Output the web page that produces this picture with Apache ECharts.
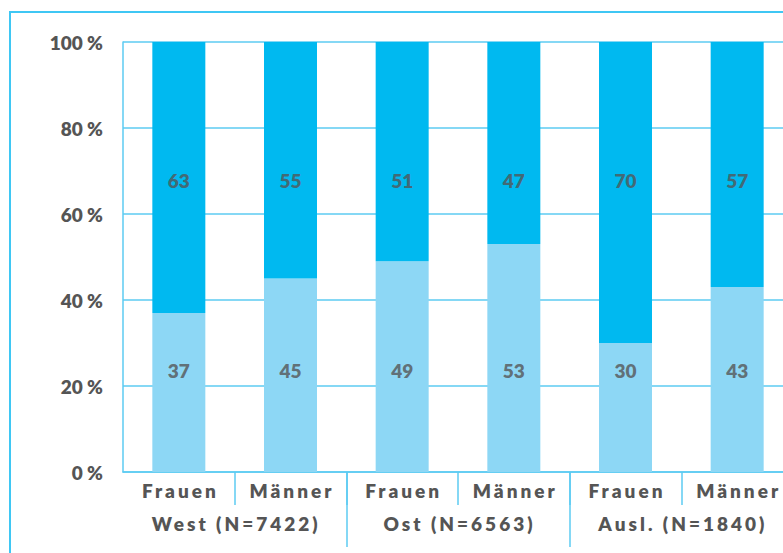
<!DOCTYPE html>
<html><head><meta charset="utf-8">
<script src="https://cdn.jsdelivr.net/npm/echarts@6/dist/echarts.min.js"></script>
<style>html,body{margin:0;padding:0;background:#fff}#c{width:783px;height:553px}</style>
</head><body><div id="c"></div>
<script>
// Data
const categories = ['Frauen', 'Männer', 'Frauen', 'Männer', 'Frauen', 'Männer'];
const groups = ['West (N=7422)', 'Ost (N=6563)', 'Ausl. (N=1840)'];
const lightValues = [37, 45, 49, 53, 30, 43];
const darkValues = [63, 55, 51, 47, 70, 57];
const yMin = 0, yMax = 100, yStep = 20;

// Style constants
const LABEL_Y_LIGHT = 23.7;
const LABEL_Y_DARK = 67.7;
const DARK = '#00b9f0', LIGHT = '#8dd7f5', LINE = '#5ccbf2', TEXT = '#555555';
const FONT = 'Lato';
const WEIGHT = 800;

const chart = echarts.init(document.getElementById('c'), null, {renderer: 'svg'});
const labelStyle = {show: true, position: 'inside', color: TEXT, fontFamily: FONT, fontWeight: WEIGHT, fontSize: 19};
chart.setOption({
  animation: false,
  backgroundColor: '#fff',
  graphic: [{type: 'rect', shape: {x: 10, y: 12, width: 800, height: 600}, style: {fill: 'none', stroke: '#3fc7f4', lineWidth: 2}, z: 100}],
  grid: {left: 123, top: 42, height: 430, width: 670, containLabel: false, outerBoundsMode: 'none'},
  xAxis: [{
    type: 'category', data: categories, position: 'bottom',
    axisLine: {show: true, lineStyle: {color: LINE, width: 1.5}},
    axisTick: {show: true, length: 33, interval: (i) => i !== 0, lineStyle: {color: LINE, width: 1.5}},
    axisLabel: {interval: 0, margin: 9, color: TEXT, fontFamily: FONT, fontWeight: WEIGHT, fontSize: 19}
  }, {
    type: 'category', data: groups, position: 'bottom',
    axisLine: {show: false},
    axisTick: {show: true, length: 75, interval: (i) => i !== 0, lineStyle: {color: LINE, width: 1.5}},
    axisLabel: {interval: 0, margin: 42, color: TEXT, fontFamily: FONT, fontWeight: WEIGHT, fontSize: 19}
  }],
  yAxis: {
    type: 'value', min: yMin, max: yMax, interval: yStep,
    axisLine: {show: true, lineStyle: {color: LINE, width: 1.5}},
    axisTick: {show: false},
    splitLine: {lineStyle: {color: LINE, width: 1.5}},
    axisLabel: {formatter: '{value} %', margin: 20, color: TEXT, fontFamily: FONT, fontWeight: WEIGHT, fontSize: 19}
  },
  series: [
    {type: 'bar', stack: 's', data: lightValues, barWidth: 53, itemStyle: {color: LIGHT}, z: 2},
    {type: 'bar', stack: 's', data: darkValues, barWidth: 53, itemStyle: {color: DARK}, z: 2},
    {type: 'scatter', data: lightValues.map((v, i) => [i, LABEL_Y_LIGHT]), symbolSize: 0, z: 5,
     label: Object.assign({}, labelStyle, {formatter: (p) => String(lightValues[p.dataIndex])})},
    {type: 'scatter', data: darkValues.map((v, i) => [i, LABEL_Y_DARK]), symbolSize: 0, z: 5,
     label: Object.assign({}, labelStyle, {formatter: (p) => String(darkValues[p.dataIndex])})}
  ]
});

function spaceLabels() {
  const names = new Set(categories.concat(groups));
  document.querySelectorAll('#c svg text').forEach((t) => {
    if (names.has(t.textContent)) {
      t.style.letterSpacing = '3px';
      t.setAttribute('dx', '1.5');
    }
  });
}
spaceLabels();
chart.on('finished', spaceLabels);
</script>
</body></html>
